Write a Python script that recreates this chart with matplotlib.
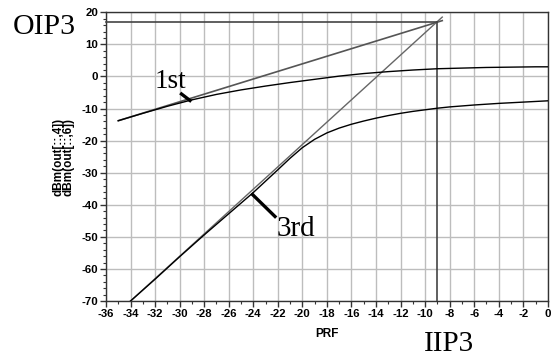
import matplotlib
matplotlib.use("Agg")
import matplotlib.pyplot as plt
import numpy as np

# Fundamental (1st order) output curve
fund_x = [-35, -33, -31, -29, -27, -25, -23, -21, -19, -17, -15, -13, -11, -9, -7, -5, -3, -1, 0]
fund_y = [-13.8, -11.5, -9.3, -7.3, -5.6, -4.2, -3.0, -1.9, -0.9, 0.1, 0.9, 1.5, 2.0, 2.4, 2.6, 2.8, 2.9, 3.0, 3.0]

# Third-order intermod output curve
im3_x = [-34, -32, -30, -28, -26, -24, -22, -21, -20, -19, -18, -17, -16, -15, -14, -13, -12, -11, -10, -9, -8, -6, -4, -2, 0]
im3_y = [-70, -63.2, -56.2, -49.4, -42.8, -36.2, -29.1, -25.5, -22.2, -19.6, -17.6, -16.1, -14.9, -13.9, -13.0, -12.2, -11.5, -10.9, -10.4, -9.9, -9.5, -8.9, -8.4, -8.0, -7.6]

# Extrapolated lines
ext1_x = [-35, -8.6]
ext1_y = [-13.8, 17.4]
ext3_x = [-34, -8.6]
ext3_y = [-70, 18.5]

iip3 = -9.0
oip3 = 17.0

xticks = list(range(-36, 1, 2))
yticks = list(range(-70, 21, 10))

fig = plt.figure(figsize=(5.55, 3.56), dpi=100)
ax = fig.add_axes([0.191, 0.1545, 0.796, 0.811])

ax.set_xlim(-36, 0)
ax.set_ylim(-70, 20)
ax.set_xticks(xticks)
ax.set_yticks(yticks)
ax.set_xticks(np.arange(-36, 0.5, 1), minor=True)
ax.set_yticks(np.arange(-70, 20.5, 2), minor=True)
ax.grid(True, which='major', color='#bdbdbd', linewidth=1.0)
ax.set_axisbelow(True)

sans = ['Liberation Sans', 'DejaVu Sans']
tfont = dict(family=sans, weight='bold', size=8.2)
ax.set_xticklabels([str(t) for t in xticks], **tfont)
ax.set_yticklabels([str(t) for t in yticks], **tfont)
ax.tick_params(which='major', direction='out', length=4, width=1, color='#333333', pad=1.5)
ax.tick_params(which='minor', direction='out', length=2, width=0.8, color='#333333')
for s in ax.spines.values():
    s.set_color('#333333')
    s.set_linewidth(1.0)

# extrapolation lines
ax.plot(ext1_x, ext1_y, color='#555555', lw=1.2, zorder=3)
ax.plot(ext3_x, ext3_y, color='#666666', lw=1.0, zorder=3)
# curves
ax.plot(fund_x, fund_y, color='black', lw=1.0, zorder=4)
ax.plot(im3_x, im3_y, color='black', lw=1.0, zorder=4)
# OIP3 / IIP3 markers
ax.plot([-36, iip3], [oip3, oip3], color='#444444', lw=1.2, zorder=3, clip_on=False)
ax.plot([iip3, iip3], [-70, oip3], color='#444444', lw=1.2, zorder=3)

ax.set_xlabel('PRF', fontdict=dict(family=sans, weight='bold', size=8.5), labelpad=7)
ax.set_ylabel('dBm(out[::,4])\ndBm(out[::,6])', fontdict=dict(family=sans, weight='bold', size=8.5), labelpad=5, linespacing=0.85)

serif = ['Liberation Serif', 'DejaVu Serif']
fig.text(13/555, 1 - 34/356, 'OIP3', family=serif, size=21.5, ha='left', va='baseline')
fig.text(155/555, 1 - 88/356, '1st', family=serif, size=19.5, ha='left', va='baseline')
fig.text(277/555, 1 - 236/356, '3rd', family=serif, size=21, ha='left', va='baseline')
fig.text(424/555, 1 - 351/356, 'IIP3', family=serif, size=21, ha='left', va='baseline')

# pointer lines (figure pixel coords)
def pix_line(x0, y0, x1, y1):
    fig.add_artist(plt.Line2D([x0/555, x1/555], [1 - y0/356, 1 - y1/356], color='black', lw=2.4, transform=fig.transFigure))

pix_line(181.5, 94, 190, 100.5)
pix_line(252.5, 194.5, 275, 216.5)

fig.savefig('out.png', dpi=100)
